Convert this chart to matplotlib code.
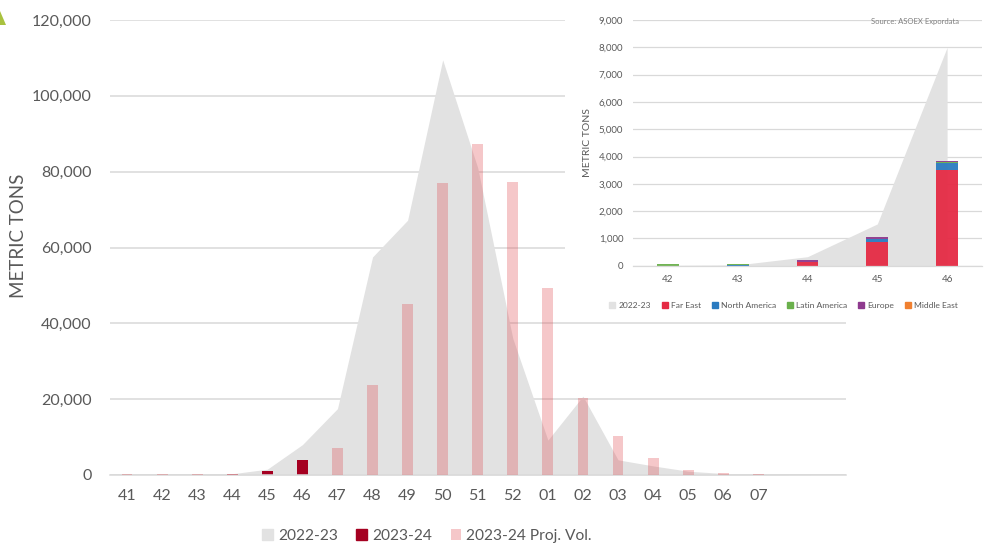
import numpy as np
import matplotlib.pyplot as plt
from matplotlib.patches import Patch, Rectangle, Polygon
from matplotlib.ticker import StrMethodFormatter

plt.rcParams['font.family'] = ['Lato', 'DejaVu Sans']

# ---------- main chart data (weeks 41 .. 09) ----------
weeks = ['41', '42', '43', '44', '45', '46', '47', '48', '49', '50', '51',
         '52', '01', '02', '03', '04', '05', '06', '07', '', '']
season_2223 = [10, 10, 30, 330, 1530, 8000, 17500, 57500, 67200, 109500,
               81000, 36000, 9200, 20800, 4000, 2400, 1000, 400, 200, 50, 0]
season_2324 = [20, 50, 80, 220, 1040, 3850, 0, 0, 0, 0,
               0, 0, 0, 0, 0, 0, 0, 0, 0, 0, 0]
proj_2324 = [300, 300, 300, 300, 0, 0, 7200, 23700, 45000, 77000,
             87300, 77400, 49300, 20200, 10300, 4500, 1300, 600, 300, 0, 0]

# ---------- inset data (weeks 42 .. 46) ----------
inset_weeks = ['42', '43', '44', '45', '46']
inset_2223 = [10, 30, 330, 1530, 8000]
far_east = [0, 0, 150, 880, 3500]
north_america = [0, 10, 0, 90, 250]
latin_america = [50, 60, 0, 20, 40]
europe = [0, 10, 70, 50, 30]
middle_east = [0, 0, 0, 0, 30]

# ---------- colours ----------
C_AREA = '#E2E2E2'
C_ACT = '#A50021'
C_PROJ = '#DE484E'
C_GRID = '#D9D9D9'
C_TXT = '#595959'
region_cols = ['#E52A44', '#2A7BC0', '#6AB04C', '#8E3A8E', '#F08030']

W, H = 990, 544
fig = plt.figure(figsize=(W / 100, H / 100), dpi=100)

# ---- main axes ----
ax = fig.add_axes([109.5 / W, (H - 475) / H, 736.5 / W, 455 / H])
x = np.arange(len(weeks))
ax.fill_between(x, season_2223, color=C_AREA, lw=0, zorder=1)
ax.bar(x, season_2324, width=0.31, color=C_ACT, zorder=2)
ax.bar(x, proj_2324, width=0.31, color=C_PROJ, alpha=0.3, lw=0, zorder=3)

ax.set_xlim(-0.5, len(weeks) - 0.5)
ax.set_ylim(0, 120000)
ax.set_yticks(np.arange(0, 120001, 20000))
ax.yaxis.set_major_formatter(StrMethodFormatter('{x:,.0f}'))
ax.set_xticks(x)
ax.set_xticklabels(weeks)
ax.grid(axis='y', color=C_GRID, lw=1.1)
ax.set_axisbelow(True)
for s in ['top', 'right', 'left']:
    ax.spines[s].set_visible(False)
ax.spines['bottom'].set_color(C_GRID)
ax.spines['bottom'].set_linewidth(1.1)
ax.tick_params(axis='y', length=0, pad=13, labelsize=11.5, labelcolor=C_TXT)
ax.tick_params(axis='x', length=0, pad=10, labelsize=11.5, labelcolor=C_TXT)
ax.set_ylabel('METRIC TONS', fontsize=13.5, color=C_TXT)
ax.yaxis.set_label_coords((27 - 109.5) / 736.5, (475 - 236) / 455)

main_handles = [Patch(color=C_AREA), Patch(color=C_ACT),
                Patch(color=C_PROJ, alpha=0.3, lw=0)]
fig.legend(main_handles, ['2022-23', '2023-24', '2023-24 Proj. Vol.'],
           loc='center', bbox_to_anchor=(427 / W, 1 - 536 / H), ncol=3,
           frameon=False, fontsize=11.2, handlelength=0.7, handleheight=0.7,
           handletextpad=0.3, columnspacing=1.2, labelcolor=C_TXT)

# ---- white panel behind inset ----
fig.patches.append(Rectangle((565 / W, (H - 321) / H), 425 / W, 321 / H,
                             transform=fig.transFigure, facecolor='white',
                             edgecolor='none', zorder=1))

# small logo fragment top-left
fig.patches.append(Polygon([(0, 1 - 25 / H), (6 / W, 1 - 25 / H), (0, 1 - 11 / H)],
                           closed=True, transform=fig.transFigure,
                           facecolor='#A9C23F', edgecolor='none', zorder=1))

# ---- inset axes ----
ax2 = fig.add_axes([633 / W, (H - 265.7) / H, 349 / W, 245.7 / H], zorder=2)
ax2.set_facecolor('none')
xi = np.arange(len(inset_weeks))
ax2.fill_between(xi, inset_2223, color=C_AREA, lw=0, zorder=1)
bottom = np.zeros(len(inset_weeks))
region_vals = [far_east, north_america, latin_america, europe, middle_east]
for vals, col in zip(region_vals, region_cols):
    ax2.bar(xi, vals, bottom=bottom, width=0.31, color=col, alpha=0.95,
            lw=0, zorder=2)
    bottom += np.array(vals)

ax2.set_xlim(-0.5, len(inset_weeks) - 0.5)
ax2.set_ylim(0, 9000)
ax2.set_yticks(np.arange(0, 9001, 1000))
ax2.yaxis.set_major_formatter(StrMethodFormatter('{x:,.0f}'))
ax2.set_xticks(xi)
ax2.set_xticklabels(inset_weeks)
ax2.grid(axis='y', color=C_GRID, lw=0.9)
ax2.set_axisbelow(True)
for s in ['top', 'right', 'left']:
    ax2.spines[s].set_visible(False)
ax2.spines['bottom'].set_color(C_GRID)
ax2.spines['bottom'].set_linewidth(0.9)
ax2.tick_params(axis='y', length=0, pad=7, labelsize=7, labelcolor=C_TXT)
ax2.tick_params(axis='x', length=0, pad=7, labelsize=7, labelcolor=C_TXT)
ax2.set_ylabel('METRIC TONS', fontsize=7.5, color=C_TXT, labelpad=5)
ax2.text(0.935, 0.995, 'Source: ASOEX Expordata', transform=ax2.transAxes,
         ha='right', va='center', fontsize=5.5, color='#7F7F7F')

inset_handles = [Patch(color=C_AREA)] + [Patch(color=c) for c in region_cols]
fig.legend(inset_handles, ['2022-23', 'Far East', 'North America',
                           'Latin America', 'Europe', 'Middle East'],
           loc='center', bbox_to_anchor=(783.5 / W, 1 - 305.7 / H), ncol=6,
           frameon=False, fontsize=6.1, handlelength=0.7, handleheight=0.7,
           handletextpad=0.35, columnspacing=1.3, labelcolor=C_TXT)

fig.savefig('out.png', dpi=100)
